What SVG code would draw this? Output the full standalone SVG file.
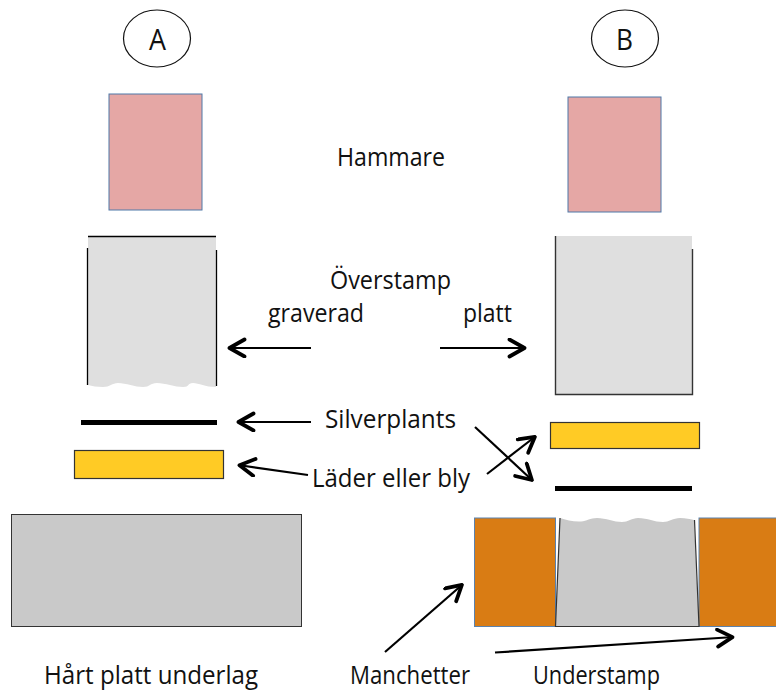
<svg xmlns="http://www.w3.org/2000/svg" width="776" height="693" viewBox="0 0 776 693">
<style>
text{font-family:"Open Sans","Noto Sans",sans-serif;font-size:25px;fill:#111}
.big{font-size:29px}
.c{stroke:#000;stroke-width:2.2;fill:none}
.e{stroke:#000;stroke-width:1.3;fill:none}
.pink{fill:#e5a7a5;stroke:#4f78a8;stroke-width:1}
.gold{fill:#ffcb25;stroke:#333;stroke-width:1.2}
.org{fill:#d97c14;stroke:#5b82ad;stroke-width:1}
</style>
<defs><marker id="a" markerUnits="userSpaceOnUse" markerWidth="24" markerHeight="24" refX="19.500" refY="10" orient="auto"><path d="M3 1.500L18 10L3 18.500" fill="none" stroke="#000" stroke-width="3.800" stroke-linecap="round" stroke-linejoin="round"/></marker></defs>
<rect width="776" height="693" fill="#fff"/>
<g id="node-a"><ellipse cx="157" cy="38.500" rx="33.500" ry="28.500" fill="#fff" stroke="#111" stroke-width="1.200"/><text class="big" x="149" y="50" textLength="17" lengthAdjust="spacingAndGlyphs">A</text></g>
<g id="node-b"><ellipse cx="625" cy="38.500" rx="33.500" ry="28.500" fill="#fff" stroke="#111" stroke-width="1.200"/><text class="big" x="616" y="50" textLength="17" lengthAdjust="spacingAndGlyphs">B</text></g>
<g id="hammer-a"><rect class="pink" x="109" y="94" width="93" height="116"/></g>
<g id="hammer-b"><rect class="pink" x="568" y="97" width="93" height="115"/></g>
<g id="label-hammare"><text x="337" y="166" textLength="108" lengthAdjust="spacingAndGlyphs">Hammare</text></g>
<g id="stamp-a">
<path d="M88 236H216V387C205 387 199 383 193 383C187 383 190 387 183 387C175 387 165 383 157 383C150 383 150 387 143 387C135 387 126 383 118 383C112 383 110 387 103 387C97 387 92 386 88 385Z" fill="#dfdfdf"/>
<path class="e" d="M88 236.500H216M87.500 248V385M216.500 250V386"/>
</g>
<g id="stamp-b">
<rect x="555" y="236" width="137" height="158" fill="#dfdfdf"/>
<path d="M555.500 236V394.500H692.500V249" fill="none" stroke="#333" stroke-width="1.400"/>
</g>
<g id="label-overstamp"><text x="330" y="289" textLength="121" lengthAdjust="spacingAndGlyphs">Överstamp</text></g>
<g id="label-graverad"><text x="268" y="322" textLength="96" lengthAdjust="spacingAndGlyphs">graverad</text></g>
<g id="label-platt"><text x="463" y="322" textLength="49" lengthAdjust="spacingAndGlyphs">platt</text></g>
<g id="plate-a"><rect x="81" y="420" width="136" height="5" fill="#000"/></g>
<g id="leather-a"><rect class="gold" x="74.500" y="450.500" width="149" height="28"/></g>
<g id="leather-b"><rect class="gold" x="550.500" y="422.500" width="149" height="26"/></g>
<g id="plate-b"><rect x="555" y="486" width="137" height="5" fill="#000"/></g>
<g id="label-silverplants"><text x="325" y="428" textLength="131" lengthAdjust="spacingAndGlyphs">Silverplants</text></g>
<g id="label-lader"><text x="312" y="487" textLength="158" lengthAdjust="spacingAndGlyphs">Läder eller bly</text></g>
<g id="base-a"><rect x="11.500" y="514.500" width="290" height="112" fill="#c9c9c9" stroke="#333" stroke-width="1"/></g>
<g id="manchette-left"><rect class="org" x="474.500" y="518" width="81" height="108.500"/></g>
<g id="manchette-right"><rect class="org" x="699" y="518" width="78" height="108.500"/></g>
<g id="understamp">
<path d="M560 518C566 520 574 522 581 521.500C587 521 590 518 597 518C606 518 614 522 622 522C628 522 632 518 638 518C648 518 654 522 663 522C669 522 673 518 680 518C686 518 690 519 694 520L699 626.500H555.500Z" fill="#c9c9c9"/>
<path d="M560 518L555.500 626.500H699L694.500 520" fill="none" stroke="#333" stroke-width="1.200"/>
</g>
<g id="label-underlag"><text x="44" y="684" textLength="214" lengthAdjust="spacingAndGlyphs">Hårt platt underlag</text></g>
<g id="label-manchetter"><text x="350" y="684" textLength="120" lengthAdjust="spacingAndGlyphs">Manchetter</text></g>
<g id="label-understamp"><text x="533" y="684" textLength="127" lengthAdjust="spacingAndGlyphs">Understamp</text></g>
<g id="connectors">
<path class="c" marker-end="url(#a)" d="M311 348H228"/>
<path class="c" marker-end="url(#a)" d="M440 348H526"/>
<path class="c" marker-end="url(#a)" d="M311 422H237"/>
<path class="c" marker-end="url(#a)" d="M308 475L238 465"/>
<path class="c" marker-end="url(#a)" d="M475 427L533 481"/>
<path class="c" marker-end="url(#a)" d="M487 474L536 436"/>
<path class="c" marker-end="url(#a)" d="M385 652L463 584"/>
<path class="c" marker-end="url(#a)" d="M495 652.500L734 637"/>
</g>
</svg>
